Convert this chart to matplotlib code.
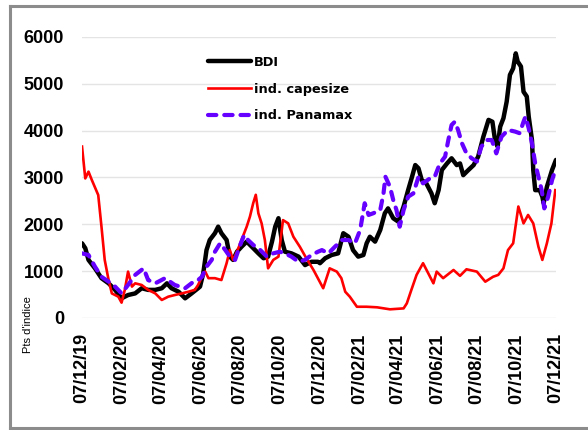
import datetime as dt

import matplotlib
matplotlib.use('Agg')
import matplotlib.pyplot as plt
import matplotlib.dates as mdates
from matplotlib.lines import Line2D

start = dt.date(2019, 12, 7)

# days since 07/12/19 and index values
bdi_days = [0, 5, 10, 20, 30, 41, 51, 61, 71, 82, 92, 102, 113, 123, 131, 138, 149, 159, 169, 179,
            182, 187, 192, 197, 205, 210, 215, 223, 228, 233, 239, 246, 254, 262, 272, 280, 287, 293,
            298, 303, 308, 313, 323, 334, 344, 354, 364, 367, 375, 385, 395, 403, 411, 418, 426, 434,
            439, 444, 452, 460, 467, 472, 480, 488, 496, 503, 509, 514, 519, 524, 531, 539, 544, 550,
            555, 563, 570, 578, 583, 588, 596, 604, 611, 619, 627, 633, 637, 641, 645, 650, 655, 660,
            665, 669, 672, 677, 681, 686, 689, 694, 696, 699, 706, 710, 712, 717, 725, 731]
bdi_vals = [1595, 1490, 1240, 1060, 850, 740, 600, 420, 490, 525, 635, 600, 600, 635, 740, 635, 560, 420, 525, 635,
            670, 955, 1450, 1665, 1810, 1950, 1810, 1665, 1310, 1240, 1415, 1520, 1630, 1520, 1380, 1275, 1310, 1630,
            1950, 2130, 1665, 1415, 1380, 1310, 1130, 1200, 1200, 1170, 1275, 1345, 1380, 1810, 1735, 1450, 1310, 1345,
            1595, 1735, 1630, 1880, 2235, 2340, 2130, 2055, 2380, 2730, 3015, 3265, 3195, 2945, 2875, 2660, 2450, 2730,
            3160, 3300, 3410, 3265, 3300, 3050, 3160, 3265, 3445, 3870, 4230, 4190, 3800, 3660, 4085, 4265, 4620, 5190,
            5330, 5650, 5475, 5370, 4830, 4730, 4300, 3800, 3160, 2730, 2730, 2590, 2450, 2800, 3160, 3375]

cape_days = [0, 5, 10, 15, 25, 30, 35, 41, 46, 56, 61, 66, 71, 77, 82, 92, 102, 113, 123, 133, 143, 154, 164,
             174, 179, 185, 190, 195, 205, 215, 223, 228, 233, 239, 246, 254, 259, 264, 268, 272, 277, 282, 287,
             295, 303, 310, 318, 326, 336, 346, 357, 372, 382, 393, 400, 406, 413, 424, 439, 455, 475, 496, 501,
             508, 516, 526, 534, 542, 547, 557, 573, 583, 593, 609, 622, 634, 642, 650, 657, 665, 673, 681, 688,
             696, 704, 710, 717, 724, 730]
cape_vals = [3660, 2980, 3125, 2950, 2625, 1950, 1240, 810, 525, 455, 327, 600, 990, 670, 740, 705, 600, 525, 385,
             455, 490, 525, 560, 600, 705, 880, 990, 850, 850, 810, 1170, 1450, 1240, 1415, 1665, 1950, 2165, 2450,
             2630, 2235, 2020, 1665, 1060, 1240, 1310, 2090, 2020, 1735, 1520, 1275, 1025, 635, 1060, 990, 850, 560,
             455, 240, 240, 228, 185, 205, 313, 600, 920, 1170, 955, 740, 990, 850, 1025, 900, 1040, 990, 775, 880,
             920, 1060, 1450, 1595, 2380, 2020, 2200, 2020, 1520, 1240, 1595, 2020, 2730]

pmx_days = [0, 10, 20, 30, 41, 51, 61, 71, 82, 95, 102, 113, 128, 143, 159, 172, 179, 185, 192, 200, 205, 213,
            221, 228, 236, 244, 250, 256, 264, 275, 285, 295, 305, 313, 323, 334, 344, 354, 364, 370, 380, 390,
            401, 411, 421, 429, 436, 442, 449, 460, 465, 468, 475, 480, 485, 490, 496, 503, 511, 519, 526, 537,
            544, 552, 560, 565, 570, 575, 580, 586, 593, 601, 609, 616, 624, 632, 639, 647, 657, 668, 675, 681,
            684, 689, 694, 699, 704, 709, 713, 719, 725, 730]
pmx_vals = [1380, 1345, 1095, 880, 775, 670, 525, 705, 920, 1060, 810, 740, 850, 705, 635, 775, 810, 880, 1095,
            1240, 1415, 1595, 1450, 1310, 1240, 1560, 1770, 1665, 1560, 1450, 1310, 1380, 1415, 1380, 1310, 1200,
            1240, 1345, 1415, 1450, 1380, 1520, 1665, 1665, 1595, 1880, 2450, 2200, 2235, 2305, 2660, 3015, 2800,
            2520, 2305, 1950, 2305, 2590, 2660, 3015, 2875, 2985, 3015, 3300, 3445, 3800, 4120, 4190, 4015, 3730,
            3515, 3410, 3340, 3660, 3800, 3800, 3515, 3870, 4015, 3980, 3945, 4190, 4300, 4050, 3730, 3300, 3015,
            2730, 2340, 2590, 2945, 3160]

labels = ['BDI', 'ind. capesize', 'ind. Panamax']


def to_dates(days):
    return [start + dt.timedelta(days=d) for d in days]


fig = plt.figure(figsize=(5.88, 4.30), dpi=100)
ax = fig.add_axes([0.1395, 0.2605, 0.806, 0.6535])

ax.plot(to_dates(cape_days), cape_vals, color='#ff0000', lw=1.9, zorder=3)
ax.plot(to_dates(pmx_days), pmx_vals, color='#6600ff', lw=3.0, linestyle=(0, (2.0, 1.9)),
        dash_capstyle='round', zorder=4)
ax.plot(to_dates(bdi_days), bdi_vals, color='black', lw=3.2, solid_capstyle='round', zorder=2)

ax.set_ylim(0, 6000)
ax.set_xlim(start, dt.date(2021, 12, 7))
ax.set_yticks(range(0, 6001, 1000))
ticks = [dt.date(2019 + (11 + 2 * i) // 12, (11 + 2 * i) % 12 + 1, 7) for i in range(13)]
ax.set_xticks(ticks)
ax.xaxis.set_major_formatter(mdates.DateFormatter('%d/%m/%y'))
ax.grid(axis='y', color='#e4e4e4', lw=1.0)
ax.set_axisbelow(True)
for s in ax.spines.values():
    s.set_visible(False)
ax.tick_params(length=0)
ax.tick_params(axis='x', pad=11)
ax.tick_params(axis='y', pad=13)
for t in ax.get_xticklabels():
    t.set_rotation(90)
    t.set_fontfamily('Liberation Sans')
    t.set_fontweight('bold')
    t.set_fontsize(13)
for t in ax.get_yticklabels():
    t.set_fontfamily('Liberation Sans')
    t.set_fontweight('bold')
    t.set_fontsize(13)

handles = [Line2D([], [], color='black', lw=3.2, solid_capstyle='round'),
           Line2D([], [], color='#ff0000', lw=1.9),
           Line2D([], [], color='#6600ff', lw=3.0, linestyle=(0, (2.0, 1.9)), dash_capstyle='round')]
fig.legend(handles, labels, loc='upper left', bbox_to_anchor=(208 / 588, 1 - 56 / 430),
           frameon=False, borderpad=0, borderaxespad=0, handlelength=3.3, handletextpad=0.25,
           labelspacing=1.05, prop={'family': 'DejaVu Sans', 'weight': 'bold', 'size': 9.3})

fig.text(28 / 588, 1 - 325 / 430, "Pts d'indice", rotation=90, ha='center', va='center',
         family='Liberation Sans', fontsize=8)

# grey frame on left, top and bottom
fig.add_artist(Line2D([9.5 / 588, 9.5 / 588], [1 - 428 / 430, 1 - 6 / 430], color='#8c8c8c', lw=2.2))
fig.add_artist(Line2D([9.5 / 588, 1.0], [1 - 6 / 430, 1 - 6 / 430], color='#8c8c8c', lw=2.2))
fig.add_artist(Line2D([9.5 / 588, 1.0], [1 - 428 / 430, 1 - 428 / 430], color='#8c8c8c', lw=2.2))

fig.savefig('out.png', dpi=100)
